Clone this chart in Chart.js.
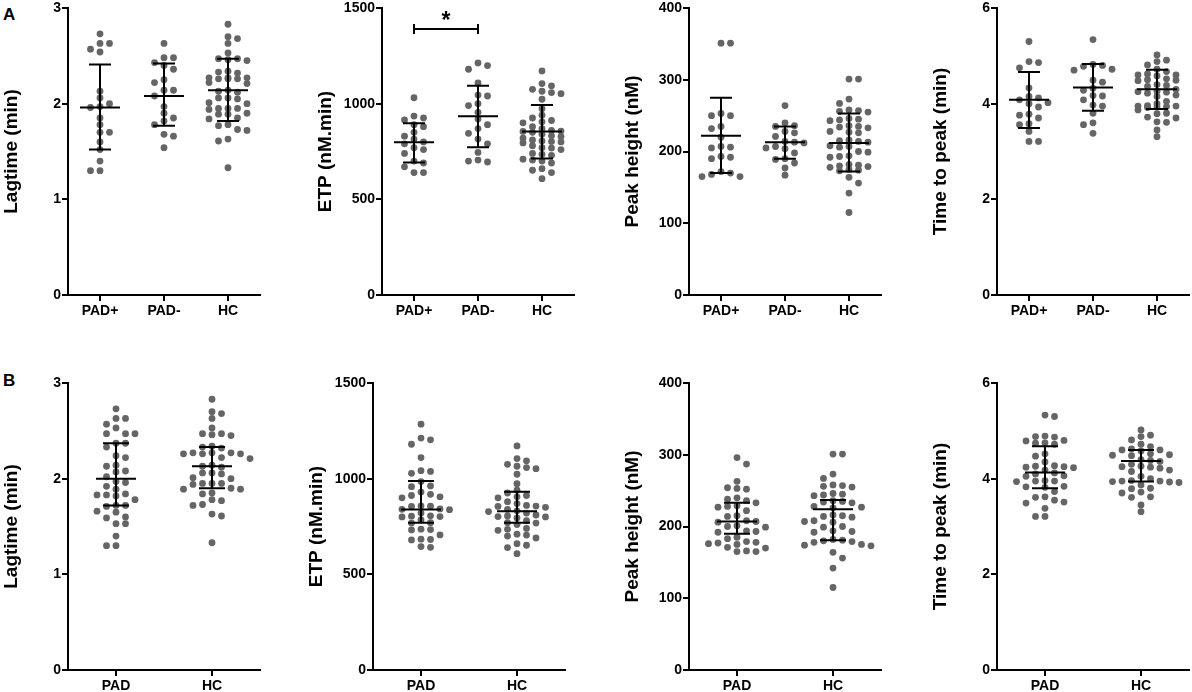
<!DOCTYPE html>
<html>
<head>
<meta charset="utf-8">
<script src="https://cdn.jsdelivr.net/npm/chart.js@4.4.1/dist/chart.umd.min.js"></script>
<style>
  body { margin: 0; background: #fff; width: 1192px; height: 692px; overflow: hidden; position: relative; font-family: "Liberation Sans", Arial, sans-serif; }
  canvas { position: absolute; }
  .tag { position: absolute; font-weight: bold; font-size: 17px; line-height: 1; }
</style>
</head>
<body>
<div class="tag" style="left:3px;top:6px">A</div>
<div class="tag" style="left:3px;top:372px">B</div>
<script>
// categories
var catsA = ['PAD+', 'PAD-', 'HC'];
var catsB = ['PAD', 'HC'];

// lagtime (min)
var lagPadPos = [2.73, 2.63, 2.63, 2.57, 2.54, 2.13, 2.06, 2.00, 1.97, 1.96, 1.85, 1.78, 1.70, 1.70, 1.60, 1.52, 1.40, 1.30, 1.30];
var lagPadNeg = [2.63, 2.48, 2.48, 2.43, 2.40, 2.36, 2.25, 2.22, 2.14, 2.14, 2.08, 1.97, 1.90, 1.85, 1.82, 1.78, 1.68, 1.66, 1.54];
var lagHC = [2.83, 2.70, 2.68, 2.63, 2.53, 2.47, 2.47, 2.46, 2.45, 2.34, 2.33, 2.32, 2.27, 2.27, 2.27, 2.26, 2.26, 2.26, 2.22, 2.21, 2.14, 2.13, 2.12, 2.06, 2.06, 2.05, 2.01, 2.00, 1.95, 1.95, 1.95, 1.94, 1.90, 1.89, 1.89, 1.85, 1.84, 1.78, 1.77, 1.73, 1.72, 1.63, 1.61, 1.33];
var lagPad = [2.73, 2.63, 2.63, 2.57, 2.53, 2.47, 2.47, 2.47, 2.37, 2.37, 2.33, 2.24, 2.22, 2.14, 2.13, 2.08, 2.07, 2.02, 1.97, 1.96, 1.92, 1.89, 1.84, 1.83, 1.83, 1.82, 1.78, 1.72, 1.72, 1.71, 1.66, 1.65, 1.60, 1.59, 1.53, 1.53, 1.40, 1.30, 1.30];

// ETP (nM.min)
var etpPadPos = [1031, 935, 925, 915, 890, 880, 850, 830, 815, 800, 790, 770, 760, 740, 700, 690, 670, 640, 640];
var etpPadNeg = [1213, 1199, 1180, 1108, 1045, 1040, 1000, 990, 955, 920, 890, 870, 845, 815, 790, 745, 705, 700, 695];
var etpHC = [1171, 1105, 1093, 1075, 1065, 1058, 1052, 1023, 974, 940, 925, 912, 905, 900, 880, 870, 860, 857, 855, 850, 840, 832, 828, 820, 810, 805, 802, 800, 795, 780, 770, 768, 760, 740, 735, 730, 710, 705, 700, 690, 660, 652, 640, 608];
var etpPad = [1285, 1212, 1203, 1180, 1110, 1042, 1038, 1028, 985, 962, 958, 930, 918, 912, 905, 900, 858, 856, 855, 842, 840, 838, 820, 806, 804, 802, 800, 785, 770, 768, 736, 734, 732, 706, 684, 682, 680, 645, 641];

// peak height (nM)
var phPadPos = [351, 351, 253, 250, 250, 235, 232, 220, 207, 206, 205, 193, 192, 190, 172, 170, 168, 165, 165];
var phPadNeg = [264, 240, 236, 235, 228, 226, 221, 214, 213, 212, 207, 205, 204, 198, 190, 189, 184, 177, 167];
var phHC = [301, 301, 273, 267, 258, 257, 256, 255, 246, 245, 244, 243, 236, 235, 234, 233, 228, 227, 226, 216, 215, 214, 213, 208, 207, 206, 200, 199, 194, 193, 192, 182, 181, 180, 179, 178, 175, 174, 173, 164, 156, 142, 115];
var phPad = [296, 287, 263, 254, 253, 252, 240, 238, 236, 233, 229, 228, 227, 222, 215, 214, 208, 207, 206, 201, 200, 199, 194, 193, 192, 185, 183, 179, 178, 177, 176, 175, 171, 170, 166, 165, 165];

// time to peak (min)
var ttpPadPos = [5.30, 4.88, 4.86, 4.75, 4.33, 4.15, 4.12, 4.08, 4.02, 4.00, 3.93, 3.78, 3.76, 3.70, 3.58, 3.56, 3.42, 3.21, 3.21];
var ttpPadNeg = [5.34, 4.82, 4.80, 4.78, 4.72, 4.70, 4.49, 4.45, 4.32, 4.28, 4.17, 4.16, 4.08, 3.97, 3.95, 3.80, 3.60, 3.56, 3.38];
var ttpHC = [5.02, 4.91, 4.88, 4.81, 4.72, 4.67, 4.62, 4.60, 4.60, 4.58, 4.52, 4.50, 4.49, 4.48, 4.40, 4.38, 4.36, 4.30, 4.26, 4.25, 4.24, 4.22, 4.18, 4.15, 4.05, 4.00, 3.96, 3.95, 3.95, 3.94, 3.93, 3.92, 3.87, 3.80, 3.79, 3.72, 3.70, 3.62, 3.61, 3.45, 3.31];
var ttpPad = [5.33, 5.30, 4.89, 4.88, 4.87, 4.80, 4.79, 4.75, 4.74, 4.72, 4.52, 4.47, 4.35, 4.27, 4.26, 4.25, 4.24, 4.23, 4.18, 4.12, 4.10, 4.06, 4.05, 3.96, 3.95, 3.95, 3.94, 3.84, 3.83, 3.82, 3.73, 3.62, 3.61, 3.55, 3.51, 3.49, 3.38, 3.21, 3.21];

// error bars per group: [low, centre, high]
var lagBarsA = [[1.52, 1.96, 2.41], [1.77, 2.08, 2.42], [1.82, 2.14, 2.47]];
var lagBarsB = [[1.72, 2.00, 2.37], [1.90, 2.13, 2.33]];
var etpBarsA = [[693, 798, 897], [772, 934, 1094], [714, 854, 993]];
var etpBarsB = [[769, 839, 988], [769, 830, 932]];
var phBarsA = [[170, 222, 275], [190, 213, 235], [172, 212, 253]];
var phBarsB = [[190, 207, 233], [181, 224, 237]];
var ttpBarsA = [[3.49, 4.08, 4.66], [3.85, 4.34, 4.83], [3.89, 4.30, 4.71]];
var ttpBarsB = [[3.80, 4.13, 4.68], [3.94, 4.37, 4.60]];

// y axes: [max, step]
var lagTicks = [3, 1];
var etpTicks = [1500, 500];
var phTicks = [400, 100];
var ttpTicks = [6, 2];

// significance bracket in ETP panel A: [from group, to group, level]
var etpSig = [0, 1, 1390];

var PLOT_H = 287, PLOT_W = 192, Y_W = 72, X_H = 34, PAD_T = 14, PAD_R = 6;
var STEP = 9.5, MIN_DY = 6.5;
var DOT = '#656565';
var tickFont = { family: '"Liberation Sans", Arial, sans-serif', size: 14, weight: 'bold' };

// column swarm, offsets in px; balances left/right columns
function swarm(vals, ppv, maxK) {
  var order = vals.map(function (v, i) { return i; }).sort(function (a, b) { return vals[b] - vals[a]; });
  var cols = {}, off = [];
  function gapOf(k, y) {
    return (cols[k] || []).reduce(function (m, yy) { return Math.min(m, Math.abs(yy - y)); }, 1e9);
  }
  order.forEach(function (i) {
    var y = vals[i] * ppv, best = null, bestK = 0, bestGap = -1;
    for (var s = 0; s <= maxK && best === null; s++) {
      var cand = s === 0 ? [0] : [s, -s];
      if (s > 0 && (cols[-s] || []).length < (cols[s] || []).length) cand = [-s, s];
      for (var j = 0; j < cand.length; j++) {
        var g = gapOf(cand[j], y);
        if (g >= MIN_DY) { best = cand[j]; break; }
        if (g > bestGap) { bestGap = g; bestK = cand[j]; }
      }
    }
    if (best === null) best = bestK;
    (cols[best] = cols[best] || []).push(y);
    off[i] = best * STEP;
  });
  return off;
}

function makePanel(p) {
  var canvas = document.createElement('canvas');
  document.body.appendChild(canvas);
  var cw = Y_W + PLOT_W + PAD_R, ch = PAD_T + PLOT_H + X_H;
  canvas.width = cw; canvas.height = ch;
  canvas.style.width = cw + 'px'; canvas.style.height = ch + 'px';
  var n = p.cats.length, pxPerCat = PLOT_W / n, ppv = PLOT_H / p.yAxis[0];

  var datasets = p.groups.map(function (vals, gi) {
    var offs = swarm(vals, ppv, p.maxK);
    return {
      data: vals.map(function (v, k) { return { x: gi + offs[k] / pxPerCat, y: v }; }),
      pointRadius: 3.4,
      pointBackgroundColor: DOT,
      pointBorderWidth: 0
    };
  });

  var bars = {
    id: 'bars',
    afterDatasetsDraw: function (chart) {
      var c = chart.ctx, xs = chart.scales.x, ys = chart.scales.y;
      c.save();
      c.strokeStyle = '#000';
      c.lineWidth = 2;
      p.bars.forEach(function (b, i) {
        var x = xs.getPixelForValue(i);
        var lo = ys.getPixelForValue(b[0]), mid = ys.getPixelForValue(b[1]), hi = ys.getPixelForValue(b[2]);
        c.beginPath();
        c.moveTo(x, lo); c.lineTo(x, hi);
        c.moveTo(x - p.capHalf, lo); c.lineTo(x + p.capHalf, lo);
        c.moveTo(x - p.capHalf, hi); c.lineTo(x + p.capHalf, hi);
        c.moveTo(x - 20, mid); c.lineTo(x + 20, mid);
        c.stroke();
      });
      if (p.sig) {
        var x0 = xs.getPixelForValue(p.sig[0]), x1 = xs.getPixelForValue(p.sig[1]);
        var y = ys.getPixelForValue(p.sig[2]);
        c.beginPath();
        c.moveTo(x0, y); c.lineTo(x1, y);
        c.moveTo(x0, y - 5); c.lineTo(x0, y + 5);
        c.moveTo(x1, y - 5); c.lineTo(x1, y + 5);
        c.stroke();
        c.fillStyle = '#000';
        c.font = 'bold 23px "Liberation Sans", Arial, sans-serif';
        c.textAlign = 'center';
        c.textBaseline = 'middle';
        c.fillText('*', (x0 + x1) / 2, y - 7);
      }
      c.restore();
    }
  };

  var axisGrid = { drawOnChartArea: false, drawTicks: true, tickLength: 6, tickColor: '#000', tickWidth: 2, lineWidth: 2 };
  var axisBorder = { display: true, color: '#000', width: 2 };

  var chart = new Chart(canvas, {
    type: 'scatter',
    data: { datasets: datasets },
    options: {
      responsive: false,
      animation: false,
      events: [],
      layout: { padding: { top: PAD_T, right: PAD_R, left: 0, bottom: 0 } },
      plugins: { legend: { display: false }, tooltip: { enabled: false } },
      scales: {
        x: {
          type: 'linear', min: -0.5, max: n - 0.5,
          afterBuildTicks: function (s) { s.ticks = p.cats.map(function (c, i) { return { value: i }; }); },
          afterFit: function (s) { s.height = X_H; },
          ticks: { callback: function (v) { return p.cats[v]; }, font: tickFont, color: '#000', padding: 2, autoSkip: false, maxRotation: 0 },
          grid: axisGrid, border: axisBorder
        },
        y: {
          min: 0, max: p.yAxis[0],
          afterFit: function (s) { s.width = Y_W; },
          ticks: { stepSize: p.yAxis[1], font: tickFont, color: '#000', padding: 1, callback: function (v) { return String(v); } },
          grid: axisGrid, border: axisBorder,
          title: { display: true, text: p.title, color: '#000', font: { family: '"Liberation Sans", Arial, sans-serif', size: 19, weight: 'bold' }, padding: { top: 4, bottom: 0 } }
        }
      }
    },
    plugins: [bars]
  });
  var a = chart.chartArea;
  canvas.style.left = (p.axisX - a.left) + 'px';
  canvas.style.top = (p.top - a.top) + 'px';
}

var panels = [
  { axisX: 68, top: 8, cats: catsA, groups: [lagPadPos, lagPadNeg, lagHC], bars: lagBarsA, yAxis: lagTicks, title: 'Lagtime (min)', maxK: 2, capHalf: 11 },
  { axisX: 382, top: 8, cats: catsA, groups: [etpPadPos, etpPadNeg, etpHC], bars: etpBarsA, yAxis: etpTicks, title: 'ETP (nM.min)', maxK: 2, capHalf: 11, sig: etpSig },
  { axisX: 689, top: 8, cats: catsA, groups: [phPadPos, phPadNeg, phHC], bars: phBarsA, yAxis: phTicks, title: 'Peak height (nM)', maxK: 2, capHalf: 11 },
  { axisX: 997, top: 8, cats: catsA, groups: [ttpPadPos, ttpPadNeg, ttpHC], bars: ttpBarsA, yAxis: ttpTicks, title: 'Time to peak (min)', maxK: 2, capHalf: 11 },
  { axisX: 68, top: 383, cats: catsB, groups: [lagPad, lagHC], bars: lagBarsB, yAxis: lagTicks, title: 'Lagtime (min)', maxK: 4, capHalf: 13 },
  { axisX: 373, top: 383, cats: catsB, groups: [etpPad, etpHC], bars: etpBarsB, yAxis: etpTicks, title: 'ETP (nM.min)', maxK: 4, capHalf: 13 },
  { axisX: 689, top: 383, cats: catsB, groups: [phPad, phHC], bars: phBarsB, yAxis: phTicks, title: 'Peak height (nM)', maxK: 4, capHalf: 13 },
  { axisX: 997, top: 383, cats: catsB, groups: [ttpPad, ttpHC], bars: ttpBarsB, yAxis: ttpTicks, title: 'Time to peak (min)', maxK: 4, capHalf: 13 }
];
panels.forEach(makePanel);
</script>
</body>
</html>
